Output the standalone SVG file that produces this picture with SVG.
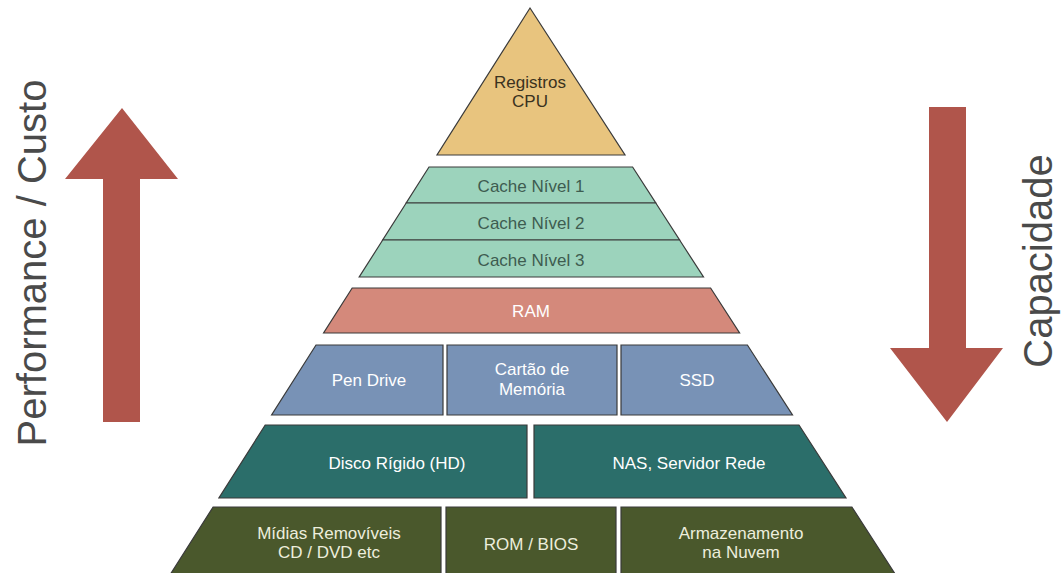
<svg xmlns="http://www.w3.org/2000/svg" width="1063" height="573" viewBox="0 0 1063 573">
  <style>
    .lv { stroke: #3a3a3a; stroke-width: 1.2; stroke-linejoin: miter; }
    .t { font-family: "Liberation Sans", Arial, sans-serif; font-size: 17px; text-anchor: middle; }
    .cpu { fill: #E8C47E; }
    .cache { fill: #9CD3BC; }
    .ram { fill: #D4897B; }
    .blue { fill: #7892B6; }
    .teal { fill: #2B6E6A; }
    .olive { fill: #4A582C; }
    .dark { fill: #3A3220; }
    .cachet { fill: #3E5C50; }
    .white { fill: #FFFFFF; }
    .cream { fill: #EDEEDD; }
    .arrow { fill: #B0554B; }
    .side { font-family: "Liberation Sans", Arial, sans-serif; font-size: 40px; fill: #4A4A4A; text-anchor: middle; }
  </style>
  <rect width="1063" height="573" fill="#FFFFFF"/>

  <g id="arrow-up">
    <polygon class="arrow" points="122,108 178,179 140,179 140,422 103,422 103,179 65,179"/>
    <text class="side" transform="translate(46,263) rotate(-90)">Performance / Custo</text>
  </g>
  <g id="arrow-down">
    <polygon class="arrow" points="929,107 966,107 966,348 1003,348 947,422 890,348 929,348"/>
    <text class="side" transform="translate(1052,261) rotate(-90)">Capacidade</text>
  </g>

  <g id="registros">
    <polygon class="lv cpu" points="530,8 625,155 437,155"/>
    <text class="t dark" font-size="15" x="530" y="88">Registros</text>
    <text class="t dark" font-size="15" x="530" y="107">CPU</text>
  </g>

  <g id="cache1">
    <polygon class="lv cache" points="429,167 632.6,167 655.8,203 406.2,203"/>
    <text class="t cachet" x="531" y="192">Cache Nível 1</text>
  </g>
  <g id="cache2">
    <polygon class="lv cache" points="406.2,203 655.8,203 679.6,240 382.7,240"/>
    <text class="t cachet" x="531" y="229">Cache Nível 2</text>
  </g>
  <g id="cache3">
    <polygon class="lv cache" points="382.7,240 679.6,240 703.5,277 359.2,277"/>
    <text class="t cachet" x="531" y="266">Cache Nível 3</text>
  </g>

  <g id="ram">
    <polygon class="lv ram" points="352.2,288 710.6,288 739.6,333 323.6,333"/>
    <text class="t white" x="531" y="317">RAM</text>
  </g>

  <g id="pendrive">
    <polygon class="lv blue" points="316,345 443,345 443,415 271.6,415"/>
    <text class="t white" x="369" y="386">Pen Drive</text>
  </g>
  <g id="cartao">
    <polygon class="lv blue" points="447,345 617,345 617,415 447,415"/>
    <text class="t white" x="532" y="375">Cartão de</text>
    <text class="t white" x="532" y="395">Memória</text>
  </g>
  <g id="ssd">
    <polygon class="lv blue" points="621,345 747.4,345 792.5,415 621,415"/>
    <text class="t white" x="697" y="386">SSD</text>
  </g>

  <g id="hd">
    <polygon class="lv teal" points="265.2,425 527,425 527,498 218.9,498"/>
    <text class="t white" x="397" y="469">Disco Rígido (HD)</text>
  </g>
  <g id="nas">
    <polygon class="lv teal" points="534,425 799,425 846,498 534,498"/>
    <text class="t white" x="689" y="469">NAS, Servidor Rede</text>
  </g>

  <g id="midias">
    <polygon class="lv olive" points="213.1,507 441,507 441,578 168,578"/>
    <text class="t cream" x="329" y="539">Mídias Removíveis</text>
    <text class="t cream" x="329" y="558">CD / DVD etc</text>
  </g>
  <g id="rom">
    <polygon class="lv olive" points="446,507 616,507 616,578 446,578"/>
    <text class="t cream" x="531" y="550">ROM / BIOS</text>
  </g>
  <g id="nuvem">
    <polygon class="lv olive" points="621,507 851.9,507 897.7,578 621,578"/>
    <text class="t cream" x="741" y="539">Armazenamento</text>
    <text class="t cream" x="741" y="558">na Nuvem</text>
  </g>

  <g id="connectors"></g>
</svg>
